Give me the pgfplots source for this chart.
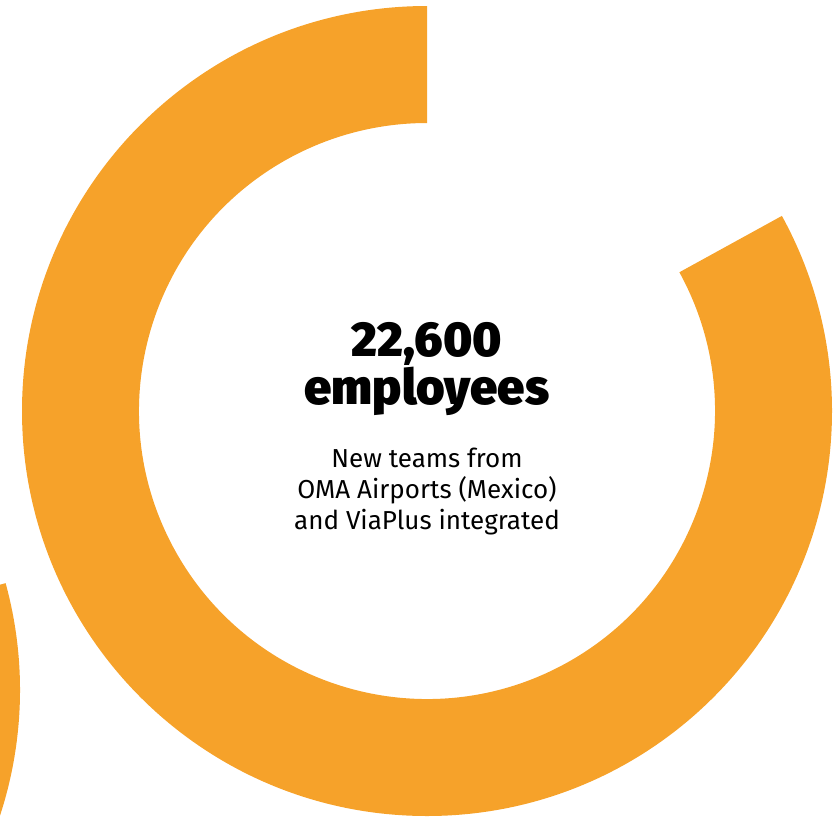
\documentclass[border=0pt]{standalone}
\usepackage{pgfplots}
\pgfplotsset{compat=1.18}
\usepackage{fontspec}
\setmainfont{Fira Sans}
\newfontfamily\heavyfont{Fira Sans}[UprightFont={* Black}]
\definecolor{ringorange}{HTML}{F6A22A}

% donut: share of the ring that is filled (per cent), centre and radii in px
\def\ringshare{83}
\def\ringcx{427}
\def\ringcy{411}
\def\outerR{405}
\def\innerR{288}

\begin{document}
\begin{tikzpicture}
\begin{axis}[
    scale only axis,
    width=835pt, height=817pt,
    xmin=0, xmax=835, ymin=0, ymax=817,
    y dir=reverse,
    hide axis,
    clip=true,
]
\addplot[draw=none] coordinates {(0,0) (835,817)};
\coordinate (c) at (axis cs:\ringcx,\ringcy);
\coordinate (d) at (axis cs:-385,690);
\pgfmathsetmacro{\endang}{90+3.6*\ringshare}
% main ring
\fill[ringorange] (c) ++(90:\outerR pt)
    arc[start angle=90, end angle=\endang, radius=\outerR pt]
    -- ([shift={(\endang:\innerR pt)}]c)
    arc[start angle=\endang, end angle=90, radius=\innerR pt] -- cycle;
% neighbouring ring, only partly visible at the left edge
\fill[ringorange] (d) ++(15.3:\outerR pt)
    arc[start angle=15.3, end angle=-60, radius=\outerR pt]
    -- ([shift={(-60:\innerR pt)}]d)
    arc[start angle=-60, end angle=15.3, radius=\innerR pt] -- cycle;
\node[font=\heavyfont\fontsize{49}{45}\selectfont, align=center, anchor=base]
    at (axis cs:427,404) {22,600\\employees};
\node[font=\fontsize{26}{31}\selectfont, align=center, anchor=base]
    at (axis cs:427,529) {New teams from\\OMA Airports (Mexico)\\and ViaPlus integrated};
\end{axis}
\end{tikzpicture}
\end{document}
